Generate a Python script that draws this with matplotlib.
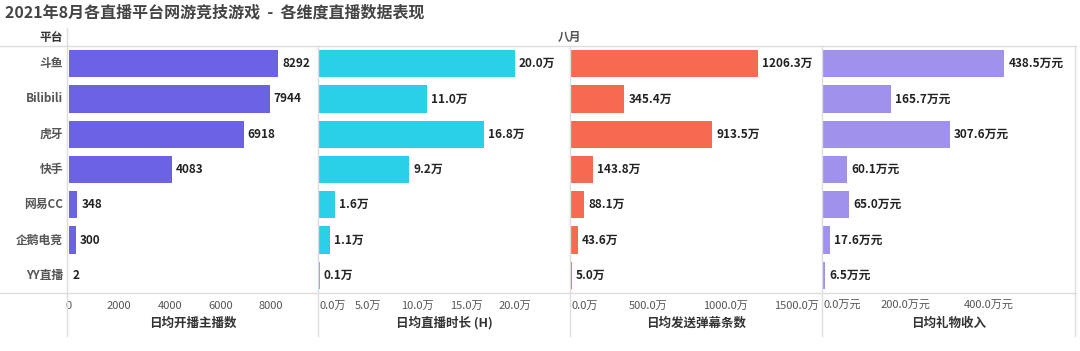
import numpy as np
import matplotlib
matplotlib.use("Agg")
import matplotlib.pyplot as plt
from matplotlib.lines import Line2D

plt.rcParams['font.family'] = ['Noto Sans CJK SC', 'DejaVu Sans']

# data
platforms = ['斗鱼', 'Bilibili', '虎牙', '快手', '网易CC', '企鹅电竞', 'YY直播']
streamers = [8292, 7944, 6918, 4083, 348, 300, 2]           # 日均开播主播数
hours = [20.0, 11.0, 16.8, 9.2, 1.6, 1.1, 0.1]              # 日均直播时长 (万)
danmaku = [1206.3, 345.4, 913.5, 143.8, 88.1, 43.6, 5.0]    # 日均发送弹幕条数 (万)
gifts = [438.5, 165.7, 307.6, 60.1, 65.0, 17.6, 6.5]        # 日均礼物收入 (万元)

W, H = 1080, 351
fig = plt.figure(figsize=(W / 100, H / 100), dpi=100)
fig.patch.set_facecolor('white')


def px_axes(x0, x1, ytop, ybot):
    return fig.add_axes([x0 / W, 1 - ybot / H, (x1 - x0) / W, (ybot - ytop) / H])


def hline(y, x0, x1, color='#dddddd', lw=1.0):
    fig.add_artist(Line2D([x0 / W, x1 / W], [1 - y / H, 1 - y / H], color=color, lw=lw))


def vline(x, y0, y1, color='#dddddd', lw=1.0):
    fig.add_artist(Line2D([x / W, x / W], [1 - y0 / H, 1 - y1 / H], color=color, lw=lw))


panels = [
    dict(x0=67, x1=318, vals=streamers, color='#6b62e6', xlim=(-60, 9860),
         ticks=[0, 2000, 4000, 6000, 8000], tfmt='{:.0f}', vfmt='{:.0f}', title='日均开播主播数'),
    dict(x0=318, x1=570, vals=hours, color='#29d0e8', xlim=(-0.1, 25.6),
         ticks=[0, 5, 10, 15, 20], tfmt='{:.1f}万', vfmt='{:.1f}万', title='日均直播时长 (H)'),
    dict(x0=570, x1=822, vals=danmaku, color='#f66a52', xlim=(-5, 1622),
         ticks=[0, 500, 1000, 1500], tfmt='{:.1f}万', vfmt='{:.1f}万', title='日均发送弹幕条数'),
    dict(x0=822, x1=1075, vals=gifts, color='#9f91ec', xlim=(-1, 609),
         ticks=[0, 200, 400], tfmt='{:.1f}万元', vfmt='{:.1f}万元', title='日均礼物收入'),
]

top, bot = 46, 293
y = np.arange(len(platforms))

for i, p in enumerate(panels):
    ax = px_axes(p['x0'], p['x1'], top, bot)
    ax.barh(y, p['vals'], height=0.77, color=p['color'])
    ax.set_xlim(*p['xlim'])
    ax.set_ylim(len(platforms) - 0.5, -0.5)
    for s in ax.spines.values():
        s.set_visible(False)
    ax.set_xticks([])
    ax.set_yticks([])
    span = p['xlim'][1] - p['xlim'][0]
    pw = p['x1'] - p['x0']
    for yi, v in zip(y, p['vals']):
        ax.text(v + span * 4 / pw, yi, p['vfmt'].format(v), va='center', ha='left',
                fontsize=8.5, fontweight='bold', color='#222222')
    # tick labels below the axes, kept inside the panel
    for k, t in enumerate(p['ticks']):
        xf = (t - p['xlim'][0]) / span
        ha = 'center'
        if k == 0 and i > 0:
            ha = 'left'
            xf = 2 / pw
        lab = ax.text(xf, -(306 - bot) / (bot - top), p['tfmt'].format(t), transform=ax.transAxes,
                      ha=ha, va='center', fontsize=8, color='#555555')
        if t == 1500:
            lab.set_ha('right')
            lab.set_x(1 - 3 / pw)
    ax.text(0.5, -(323 - bot) / (bot - top), p['title'], transform=ax.transAxes,
            ha='center', va='center', fontsize=9, fontweight='bold', color='#333333')

# category labels
for yi, name in zip(y, platforms):
    fig.text(63 / W, 1 - (top + (yi + 0.5) * (bot - top) / len(platforms)) / H, name,
             ha='right', va='center', fontsize=8.5, fontweight='bold', color='#555555')

# header / title
fig.text(5 / W, 1 - 12 / H, '2021年8月各直播平台网游竞技游戏  -  各维度直播数据表现',
         ha='left', va='center', fontsize=11.5, fontweight='bold', color='#444444')
fig.text(63 / W, 1 - 37 / H, '平台', ha='right', va='center', fontsize=8.5,
         fontweight='bold', color='#333333')
fig.text(570 / W, 1 - 37 / H, '八月', ha='center', va='center', fontsize=8.5,
         fontweight='bold', color='#555555')

# table grid lines
hline(top, 0, 1076)
hline(bot, 0, 1076)
vline(67, 28, 336)
for xd in [318, 570, 822]:
    vline(xd, top, 336)
vline(1075, top, 336)

plt.savefig('out.png', dpi=100, facecolor='white')
